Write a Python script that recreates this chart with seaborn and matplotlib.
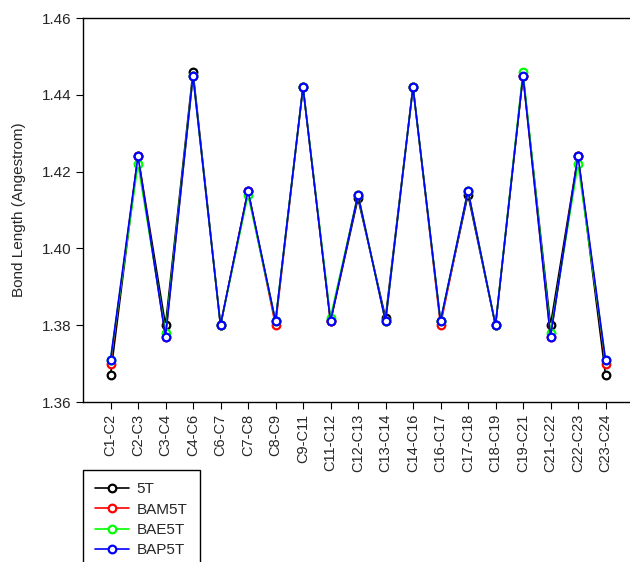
import pandas as pd
import seaborn as sns
import matplotlib.pyplot as plt


# data
bonds = ['C1-C2', 'C2-C3', 'C3-C4', 'C4-C6', 'C6-C7', 'C7-C8', 'C8-C9',
         'C9-C11', 'C11-C12', 'C12-C13', 'C13-C14', 'C14-C16', 'C16-C17',
         'C17-C18', 'C18-C19', 'C19-C21', 'C21-C22', 'C22-C23', 'C23-C24']

t5 = [1.367, 1.424, 1.380, 1.446, 1.380, 1.415, 1.381, 1.442, 1.381, 1.413,
      1.382, 1.442, 1.381, 1.414, 1.380, 1.445, 1.380, 1.424, 1.367]
bam5t = [1.370, 1.424, 1.377, 1.445, 1.380, 1.415, 1.380, 1.442, 1.381, 1.414,
         1.381, 1.442, 1.380, 1.415, 1.380, 1.445, 1.377, 1.424, 1.370]
bae5t = [1.371, 1.422, 1.378, 1.445, 1.380, 1.414, 1.381, 1.442, 1.382, 1.414,
         1.381, 1.442, 1.381, 1.415, 1.380, 1.446, 1.378, 1.422, 1.371]
bap5t = [1.371, 1.424, 1.377, 1.445, 1.380, 1.415, 1.381, 1.442, 1.381, 1.414,
         1.381, 1.442, 1.381, 1.415, 1.380, 1.445, 1.377, 1.424, 1.371]

series = {'5T': t5, 'BAM5T': bam5t, 'BAE5T': bae5t, 'BAP5T': bap5t}
colors = {'5T': 'black', 'BAM5T': 'red', 'BAE5T': '#00ff00', 'BAP5T': 'blue'}


def main():
    sns.set_style('ticks')
    plt.rcParams['font.family'] = ['Liberation Sans', 'DejaVu Sans']

    fig = plt.figure(figsize=(6.3, 5.62), dpi=100)
    ax = fig.add_axes([83 / 630, 160 / 562, 550 / 630, 384 / 562])

    for name, values in series.items():
        df = pd.DataFrame({'bond': bonds, 'length': values})
        sns.lineplot(x='bond', y='length', data=df, ax=ax, sort=False,
                     color=colors[name], label=name, lw=1.2,
                     marker='o', markersize=5.5, markerfacecolor='white',
                     markeredgecolor=colors[name], markeredgewidth=1.6)

    ax.set_xlim(-1, 19)
    ax.set_ylim(1.36, 1.46)
    ax.set_yticks([1.36, 1.38, 1.40, 1.42, 1.44, 1.46])
    ax.set_yticklabels(['1.36', '1.38', '1.40', '1.42', '1.44', '1.46'])
    ax.tick_params(axis='x', labelrotation=90, labelsize=10.5,
                   direction='out', length=5, color='black')
    ax.tick_params(axis='y', labelsize=11, direction='out', length=5,
                   color='black')
    ax.set_xlabel('')
    ax.set_ylabel('Bond Length (Angestrom)', fontsize=11, labelpad=11)

    for side in ['left', 'bottom', 'top']:
        ax.spines[side].set_color('black')
        ax.spines[side].set_linewidth(1.0)
    ax.spines['right'].set_visible(False)

    leg = ax.legend(loc='upper left', bbox_to_anchor=(83 / 630, 92 / 562),
                    bbox_transform=fig.transFigure, borderaxespad=0,
                    fancybox=False, edgecolor='black', fontsize=11,
                    handlelength=2.2, handletextpad=0.5, labelspacing=0.42,
                    borderpad=0.8, framealpha=1)
    leg.get_frame().set_linewidth(1.0)

    fig.savefig('out.png', dpi=100)


if __name__ == '__main__':
    main()
